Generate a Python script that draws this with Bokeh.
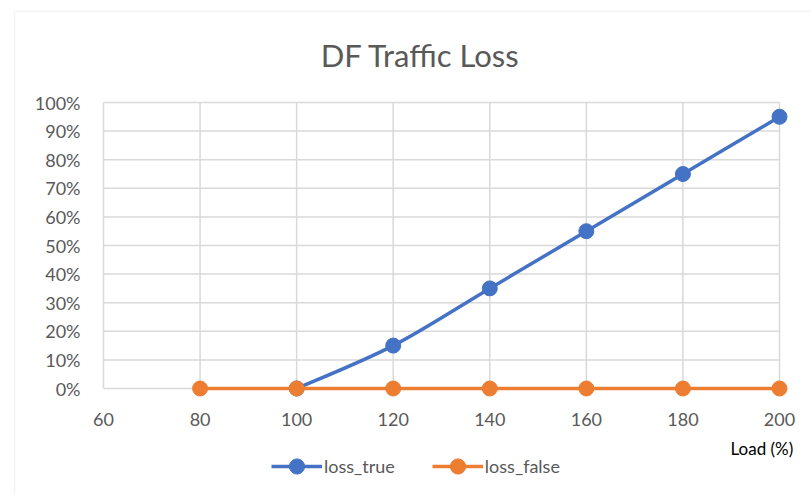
import numpy as np
from bokeh.plotting import figure
from bokeh.models import (FixedTicker, NumeralTickFormatter, Label, Legend,
                          LegendItem, BoxAnnotation, Range1d)
from bokeh.embed import file_html
from bokeh.resources import INLINE

# ---- data ----
title_text = "DF Traffic Loss"
x_label = "Load (%)"
load_true = [100, 120, 140, 160, 180, 200]
loss_true = [0.0, 0.15, 0.35, 0.55, 0.75, 0.95]
load_false = [80, 100, 120, 140, 160, 180, 200]
loss_false = [0, 0, 0, 0, 0, 0, 0]
x_ticks = [60, 80, 100, 120, 140, 160, 180, 200]
y_ticks = [0, 0.1, 0.2, 0.3, 0.4, 0.5, 0.6, 0.7, 0.8, 0.9, 1.0]

BLUE = "#4472C4"
ORANGE = "#ED7D31"
GRID = "#d9d9d9"
TXT = "#595959"
FONT = "Lato"

# ---- layout (canvas pixels) ----
W, H = 811, 495
PX_L, PX_R = 103, 779      # pixel of x=60 and x=200
PX_T, PX_B = 102, 388      # pixel of y=1 and y=0
xmin, xmax = x_ticks[0], x_ticks[-1]
ymin, ymax = y_ticks[0], y_ticks[-1]
sx = (PX_R - PX_L) / (xmax - xmin)
sy = (PX_B - PX_T) / (ymax - ymin)
x_range = Range1d(xmin - PX_L / sx, xmax + (W - PX_R) / sx)
y_range = Range1d(ymin - (H - PX_B) / sy, ymax + PX_T / sy)

p = figure(width=W, height=H, output_backend="svg", toolbar_location=None,
           x_range=x_range, y_range=y_range, title=None, min_border=0)
p.outline_line_color = None
p.background_fill_color = "white"
p.border_fill_color = "white"
p.xgrid.visible = False
p.ygrid.visible = False

# axes drawn inside the frame at fixed positions
p.xaxis.fixed_location = ymin
p.yaxis.fixed_location = xmin
p.xaxis.ticker = FixedTicker(ticks=x_ticks)
p.yaxis.ticker = FixedTicker(ticks=y_ticks)
p.yaxis.formatter = NumeralTickFormatter(format="0%")
for ax in (p.xaxis[0], p.yaxis[0]):
    ax.axis_line_color = None
    ax.major_tick_line_color = None
    ax.minor_tick_line_color = None
    ax.major_label_text_font = FONT
    ax.major_label_text_font_size = "18px"
    ax.major_label_text_color = TXT
p.yaxis.major_label_standoff = 17
p.xaxis.major_label_standoff = 18

# grid lines limited to the plot area
p.segment(x0=x_ticks, y0=[ymin] * len(x_ticks), x1=x_ticks, y1=[ymax] * len(x_ticks),
          line_color=GRID, line_width=1.5)
p.segment(x0=[xmin] * len(y_ticks), y0=y_ticks, x1=[xmax] * len(y_ticks), y1=y_ticks,
          line_color=GRID, line_width=1.5)

# smooth (Excel-like) curve for loss_true via bezier segments
xt = np.array(load_true, dtype=float)
yt = np.array(loss_true, dtype=float)
n = len(xt)
xp = np.concatenate([[xt[0]], xt, [xt[-1]]])
yp = np.concatenate([[yt[0]], yt, [yt[-1]]])
x0 = xt[:-1]; y0 = yt[:-1]; x1 = xt[1:]; y1 = yt[1:]
cx0 = x0 + (xp[2:n + 1] - xp[0:n - 1]) / 6.0
cy0 = y0 + (yp[2:n + 1] - yp[0:n - 1]) / 6.0
cx1 = x1 - (xp[3:n + 2] - xp[1:n]) / 6.0
cy1 = y1 - (yp[3:n + 2] - yp[1:n]) / 6.0
p.bezier(x0=x0, y0=y0, x1=x1, y1=y1, cx0=cx0, cy0=cy0, cx1=cx1, cy1=cy1,
         line_color=BLUE, line_width=3.5)
s_true = p.scatter(load_true, loss_true, size=15, color=BLUE)
# legend-only line (placeholder point, not drawn on the plot)
l_true_leg = p.line(x=[np.nan], y=[np.nan], line_color=BLUE, line_width=3.5)

l_false = p.line(load_false, loss_false, line_color=ORANGE, line_width=3.5)
s_false = p.scatter(load_false, loss_false, size=15, color=ORANGE)

legend = Legend(items=[
    LegendItem(label="loss_true", renderers=[l_true_leg, s_true]),
    LegendItem(label="loss_false", renderers=[l_false, s_false]),
], orientation="horizontal", location=(271, H - 485))
legend.label_text_font = FONT
legend.label_text_font_size = "18px"
legend.label_text_color = TXT
legend.glyph_width = 51
legend.glyph_height = 38
legend.label_height = 20
legend.label_standoff = 2
legend.spacing = 37
legend.padding = 0
legend.margin = 0
legend.border_line_color = None
legend.background_fill_alpha = 0
p.add_layout(legend, "center")

# title
p.add_layout(Label(x=420, y=H - 54, x_units="screen", y_units="screen", text=title_text,
                   text_font=FONT, text_font_size="31px", text_color=TXT,
                   text_align="center", text_baseline="middle"))
# axis title
p.add_layout(Label(x=730, y=H - 448, x_units="screen", y_units="screen", text=x_label,
                   text_font=FONT, text_font_size="17px", text_color="#000000",
                   text_align="left", text_baseline="middle"))

# outer chart border
p.add_layout(BoxAnnotation(left=14, right=W + 50, top=H - 11, bottom=-50,
                           left_units="screen", right_units="screen",
                           top_units="screen", bottom_units="screen",
                           fill_alpha=0, line_color=GRID, line_width=1.5))

open("out.html", "w").write(file_html(p, INLINE))
